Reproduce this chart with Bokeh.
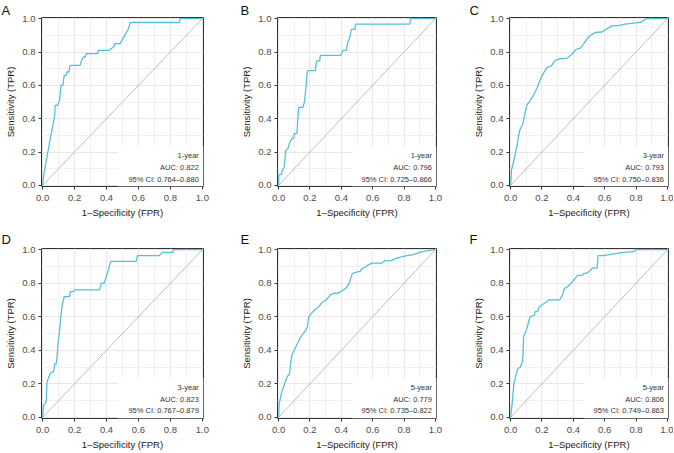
from bokeh.plotting import figure
from bokeh.layouts import column, row
from bokeh.models import FixedTicker, NumeralTickFormatter, Range1d
from bokeh.embed import file_html
from bokeh.resources import INLINE
from bokeh.core.properties import value

# ---------------- data ----------------
panel_letters = ["A", "B", "C", "D", "E", "F"]
horizons = ["1-year", "1-year", "3-year", "3-year", "5-year", "5-year"]
auc_values = ["0.822", "0.796", "0.793", "0.823", "0.779", "0.806"]
ci_values = ["0.764–0.880", "0.725–0.866", "0.750–0.836",
             "0.767–0.879", "0.735–0.822", "0.749–0.863"]

tick_values = [0.0, 0.2, 0.4, 0.6, 0.8, 1.0]
minor_values = [0.1, 0.3, 0.5, 0.7, 0.9]

fpr_A = [0, 0.006, 0.027, 0.044, 0.058, 0.075, 0.079, 0.094, 0.106, 0.115, 0.127, 0.135,
         0.146, 0.152, 0.165, 0.171, 0.235, 0.244, 0.256, 0.267, 0.273, 0.346, 0.348,
         0.417, 0.448, 0.452, 0.485, 0.496, 0.538, 0.548, 0.856, 0.86, 1.0]
tpr_A = [0, 0.055, 0.17, 0.26, 0.33, 0.415, 0.48, 0.48, 0.51, 0.60, 0.60, 0.66,
         0.66, 0.68, 0.68, 0.72, 0.72, 0.75, 0.77, 0.77, 0.79, 0.79, 0.81,
         0.81, 0.835, 0.85, 0.85, 0.87, 0.94, 0.977, 0.977, 1.0, 1.0]

fpr_B = [0, 0.002, 0.017, 0.025, 0.036, 0.046, 0.059, 0.069, 0.084, 0.096, 0.1, 0.117,
         0.121, 0.128, 0.155, 0.165, 0.174, 0.184, 0.234, 0.243, 0.262, 0.266, 0.397,
         0.41, 0.433, 0.44, 0.456, 0.464, 0.487, 0.49, 0.837, 0.841, 1.0]
tpr_B = [0, 0.064, 0.064, 0.094, 0.11, 0.21, 0.22, 0.25, 0.28, 0.28, 0.31, 0.31,
         0.376, 0.468, 0.468, 0.5, 0.58, 0.688, 0.688, 0.747, 0.747, 0.78, 0.78,
         0.81, 0.81, 0.854, 0.893, 0.936, 0.936, 0.967, 0.967, 1.0, 1.0]

fpr_C = [0, 0.004, 0.006, 0.021, 0.035, 0.046, 0.058, 0.079, 0.09, 0.104, 0.125, 0.146,
         0.167, 0.1875, 0.202, 0.219, 0.233, 0.26, 0.281, 0.3125, 0.354, 0.385, 0.417,
         0.448, 0.469, 0.5, 0.542, 0.583, 0.615, 0.646, 0.698, 0.73, 0.802, 0.833,
         0.865, 1.0]
tpr_C = [0, 0.06, 0.094, 0.15, 0.21, 0.27, 0.33, 0.37, 0.425, 0.483, 0.51, 0.54,
         0.58, 0.63, 0.66, 0.688, 0.708, 0.717, 0.747, 0.76, 0.76, 0.78, 0.815,
         0.825, 0.854, 0.893, 0.918, 0.92, 0.94, 0.957, 0.96, 0.967, 0.975, 0.98,
         1.0, 1.0]

fpr_D = [0, 0.006, 0.017, 0.023, 0.027, 0.0375, 0.048, 0.058, 0.069, 0.075, 0.085, 0.09,
         0.096, 0.106, 0.115, 0.123, 0.135, 0.169, 0.173, 0.194, 0.198, 0.356, 0.367,
         0.385, 0.392, 0.402, 0.427, 0.585, 0.594, 0.73, 0.752, 0.815, 0.819, 1.0]
tpr_D = [0, 0.073, 0.085, 0.10, 0.204, 0.24, 0.26, 0.27, 0.27, 0.318, 0.318, 0.357,
         0.435, 0.514, 0.61, 0.67, 0.72, 0.72, 0.75, 0.75, 0.76, 0.76, 0.80,
         0.80, 0.82, 0.85, 0.93, 0.93, 0.965, 0.965, 0.984, 0.984, 1.0, 1.0]

fpr_E = [0, 0.004, 0.017, 0.031, 0.046, 0.059, 0.067, 0.073, 0.084, 0.094, 0.115, 0.136,
         0.157, 0.174, 0.184, 0.192, 0.209, 0.234, 0.257, 0.272, 0.303, 0.33, 0.356,
         0.377, 0.397, 0.429, 0.45, 0.47, 0.49, 0.519, 0.533, 0.565, 0.596, 0.659,
         0.68, 0.72, 0.753, 0.795, 0.858, 0.92, 1.0]
tpr_E = [0, 0.082, 0.14, 0.18, 0.22, 0.25, 0.25, 0.29, 0.37, 0.39, 0.43, 0.47,
         0.50, 0.52, 0.54, 0.60, 0.62, 0.645, 0.66, 0.68, 0.70, 0.73, 0.74,
         0.74, 0.75, 0.77, 0.80, 0.857, 0.865, 0.87, 0.886, 0.906, 0.92, 0.92,
         0.935, 0.935, 0.95, 0.96, 0.97, 0.99, 1.0]

fpr_F = [0, 0.01, 0.021, 0.031, 0.046, 0.0625, 0.073, 0.079, 0.083, 0.098, 0.11, 0.119,
         0.125, 0.152, 0.156, 0.172, 0.181, 0.2, 0.223, 0.244, 0.3125, 0.333, 0.344,
         0.365, 0.385, 0.41, 0.427, 0.458, 0.465, 0.49, 0.51, 0.52, 0.552, 0.558,
         0.594, 0.656, 0.719, 0.781, 0.802, 1.0]
tpr_F = [0, 0.082, 0.2, 0.24, 0.29, 0.30, 0.327, 0.367, 0.484, 0.514, 0.55, 0.585,
         0.6, 0.61, 0.63, 0.63, 0.655, 0.67, 0.685, 0.70, 0.70, 0.733, 0.77,
         0.78, 0.80, 0.827, 0.847, 0.847, 0.857, 0.862, 0.876, 0.89, 0.89, 0.965,
         0.965, 0.975, 0.984, 0.988, 1.0, 1.0]

curves = [(fpr_A, tpr_A), (fpr_B, tpr_B), (fpr_C, tpr_C),
          (fpr_D, tpr_D), (fpr_E, tpr_E), (fpr_F, tpr_F)]
diag = [0.0, 1.0]
legend_y = [0.18, 0.105, 0.038]

# ---------------- styling / layout ----------------
FONT = "Liberation Sans"
CURVE_COLOR = "#57BFDB"
FRAME_W, FRAME_H = 162, 173
LEFTS = [41, 36, 36]
RIGHTS = [35, 34, 5]
TOPS = [17, 28]
BOTTOMS = [30, 31]
LETTER_OFFSETS = [-40, -37, -40]
LETTER_STANDOFF = [0, 4]


def make_panel(i):
    r, c = divmod(i, 3)
    w = LEFTS[c] + FRAME_W + RIGHTS[c]
    h = TOPS[r] + FRAME_H + BOTTOMS[r]
    p = figure(width=w, height=h, output_backend="svg", toolbar_location=None,
               x_range=Range1d(-0.007, 1.007), y_range=Range1d(-0.007, 1.007),
               min_border_left=LEFTS[c], min_border_right=RIGHTS[c],
               min_border_top=TOPS[r], min_border_bottom=BOTTOMS[r],
               background_fill_color="white", border_fill_color="white",
               title=panel_letters[i])
    p.title.align = "left"
    p.title.offset = LETTER_OFFSETS[c]
    p.title.standoff = LETTER_STANDOFF[r]
    p.title.text_font = FONT
    p.title.text_font_size = "13px"
    p.title.text_font_style = "normal"
    p.title.text_color = "#111111"

    p.outline_line_color = "#333333"
    p.outline_line_width = 1

    for ax in (p.xaxis[0], p.yaxis[0]):
        ax.ticker = FixedTicker(ticks=tick_values, minor_ticks=minor_values)
        ax.formatter = NumeralTickFormatter(format="0.0")
        ax.axis_line_color = None
        ax.major_tick_line_color = "#333333"
        ax.major_tick_out = 3
        ax.major_tick_in = 0
        ax.minor_tick_line_color = None
        ax.major_label_text_font = FONT
        ax.major_label_text_font_size = "9.5px"
        ax.major_label_text_color = "#4D4D4D"
        ax.axis_label_text_font = FONT
        ax.axis_label_text_font_size = "9.5px"
        ax.axis_label_text_font_style = "normal"
        ax.axis_label_text_color = "#1A1A1A"
        ax.axis_label_standoff = 3
    p.xaxis[0].major_label_standoff = 4
    p.yaxis[0].major_label_standoff = 2
    p.xaxis[0].axis_label = "1–Specificity (FPR)"
    p.yaxis[0].axis_label = "Sensitivity (TPR)"

    for g in (p.xgrid[0], p.ygrid[0]):
        g.grid_line_color = "#E8E8E8"
        g.grid_line_width = 1
        g.minor_grid_line_color = "#EEEEEE"
        g.minor_grid_line_width = 0.8

    # legend background box (white) at bottom-right
    p.quad(left=[0.47], right=[1.007], bottom=[-0.007], top=[0.235],
           fill_color="white", line_color=None)

    p.line(diag, diag, line_color="#BEBEBE", line_width=1)
    fx, ty = curves[i]
    p.line(fx, ty, line_color=CURVE_COLOR, line_width=1.3)

    texts = [horizons[i], "AUC: " + auc_values[i], "95% CI: " + ci_values[i]]
    p.text(x=[0.978] * 3, y=legend_y, text=texts,
           text_font=value(FONT), text_font_size="7.5px", text_color="#333333",
           text_align="right", text_baseline="middle")
    return p


panels = [make_panel(i) for i in range(6)]
layout = column(row(*panels[:3]), row(*panels[3:]))

open("out.html", "w").write(file_html(layout, INLINE))
